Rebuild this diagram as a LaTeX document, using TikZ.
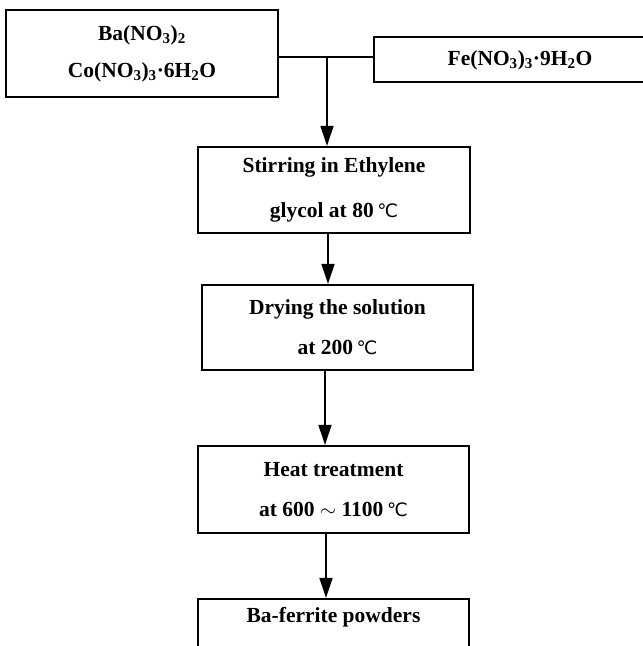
\documentclass[tikz,border=0pt]{standalone}
\usepackage{fontspec}
\setmainfont{Liberation Serif}
\newfontfamily\symf{DejaVu Sans}
\usetikzlibrary{arrows.meta}
\newcommand{\degc}{\,{\symf\mdseries\fontsize{18.5}{18.5}\selectfont ℃}}
\tikzset{
  box/.style={draw=black, line width=2.2pt, rectangle, inner sep=0pt, align=center,
    font=\bfseries\fontsize{21.5}{40}\selectfont},
  txt/.style={inner sep=0pt, font=\bfseries\fontsize{21.5}{24}\selectfont},
  arr/.style={draw=black, line width=1.7pt, -{Triangle[length=20pt,width=13pt]}},
  conn/.style={draw=black, line width=2pt}
}
\begin{document}
\begin{tikzpicture}[x=1pt,y=-1pt]
\useasboundingbox (0,0) rectangle (643,646);
\clip (0,0) rectangle (643,646);
\fill[white] (0,0) rectangle (643,646);

\node[box, minimum width=272pt, minimum height=87pt,
  font=\bfseries\fontsize{21.5}{37}\selectfont] (b1) at (142,53.5)
  {Ba(NO\textsubscript{3})\textsubscript{2}\\Co(NO\textsubscript{3})\textsubscript{3}·6H\textsubscript{2}O};
\node[box, minimum width=294pt, minimum height=45pt] (b2) at (521,59.5) {};
\node[txt] (t2) at (520,60) {Fe(NO\textsubscript{3})\textsubscript{3}·9H\textsubscript{2}O};

\node[box, minimum width=272pt, minimum height=86pt,
  font=\bfseries\fontsize{21.5}{45}\selectfont] (b3) at (334,190)
  {Stirring in Ethylene\\glycol at 80\degc};
\node[box, minimum width=271pt, minimum height=85pt] (b4) at (337.5,327.5)
  {Drying the solution\\at 200\degc};
\node[box, minimum width=271pt, minimum height=87pt] (b5) at (333.5,489.5)
  {Heat treatment\\at 600 $\sim$ 1100\degc};
\node[box, minimum width=271pt, minimum height=81pt] (b6) at (333.5,639.5) {};
\node[txt] (t6) at (333.5,617) {Ba-ferrite powders};

\coordinate (j) at (327,57);
\draw[conn] (b1.east |- j) -- (b2.west |- j);
\draw[arr] (j) -- (b3.north -| j);
\draw[arr] ([xshift=-6pt]b3.south) -- ([xshift=-9.5pt]b4.north);
\draw[arr] ([xshift=-12.5pt]b4.south) -- ([xshift=-8.5pt]b5.north);
\draw[arr] ([xshift=-7.5pt]b5.south) -- ([xshift=-7.5pt]b6.north);
\end{tikzpicture}
\end{document}
